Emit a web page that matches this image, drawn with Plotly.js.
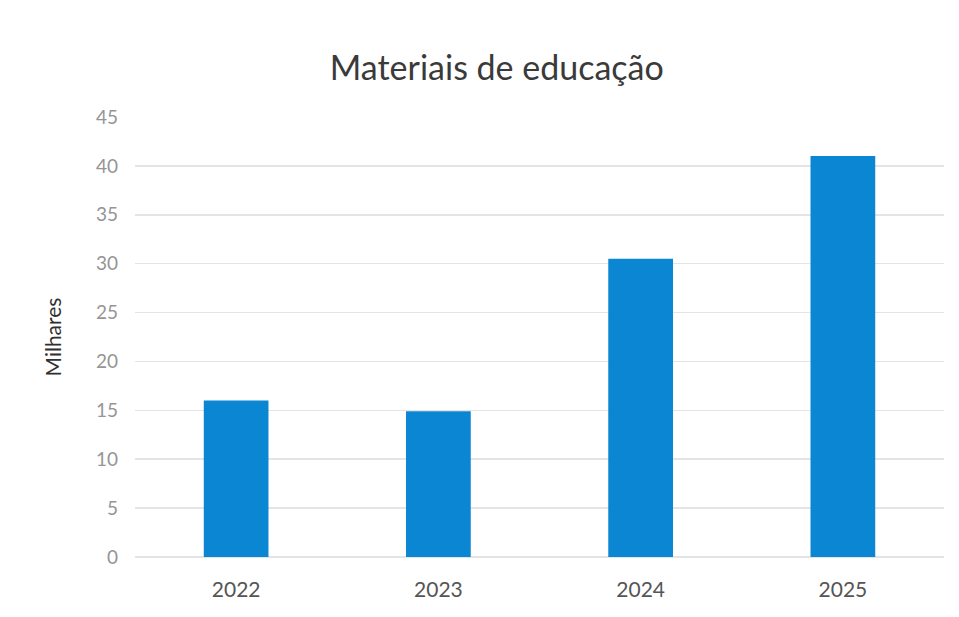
<!DOCTYPE html>
<html>
<head>
<meta charset="utf-8">
<script src="https://cdn.plot.ly/plotly-3.0.1.min.js"></script>
<style>html,body{margin:0;padding:0;background:#fff;}#chart{width:959px;height:617px;}</style>
</head>
<body>
<div id="chart"></div>
<script>
const categories = ["2022", "2023", "2024", "2025"];
const values = [16, 14.9, 30.5, 41];
const yTicks = [0, 5, 10, 15, 20, 25, 30, 35, 40, 45];

const trace = {
  type: "bar",
  x: categories,
  y: values,
  marker: {color: "#0a86d2"},
  hoverinfo: "x+y"
};

const layout = {
  width: 959,
  height: 617,
  margin: {l: 135, r: 15, t: 117, b: 60},
  paper_bgcolor: "#ffffff",
  plot_bgcolor: "#ffffff",
  showlegend: false,
  bargap: 0.68,
  font: {family: "Lato, 'Open Sans', sans-serif"},
  title: {
    text: "Materiais de educação",
    font: {size: 34, color: "#3a3a3a", family: "Lato, 'Open Sans', sans-serif"},
    x: 0.518, xanchor: "center",
    y: 0.89, yanchor: "middle"
  },
  xaxis: {
    type: "category",
    tickfont: {size: 21, color: "#555555"},
    showgrid: false,
    showline: false,
    zeroline: false,
    ticks: "",
    ticklabelstandoff: 18
  },
  yaxis: {
    range: [0, 45],
    tickvals: yTicks,
    ticktext: yTicks.map(String),
    tickfont: {size: 19, color: "#959595"},
    gridcolor: "#e4e4e4",
    gridwidth: 1.5,
    zeroline: true,
    zerolinecolor: "#e4e4e4",
    zerolinewidth: 1.5,
    showline: false,
    ticks: "",
    ticklabelstandoff: 16,
    title: {text: "Milhares", font: {size: 21, color: "#303030"}, standoff: 28}
  }
};

Plotly.newPlot("chart", [trace], layout, {displayModeBar: false, staticPlot: true});
</script>
</body>
</html>
